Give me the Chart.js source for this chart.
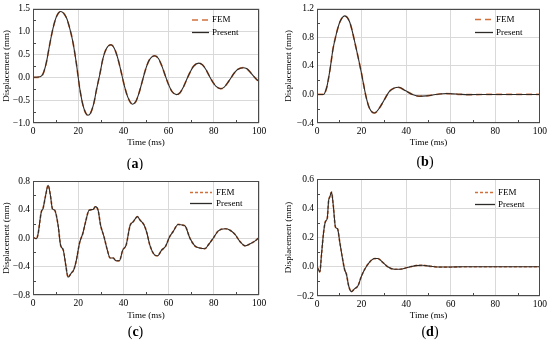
<!DOCTYPE html>
<html><head><meta charset="utf-8">
<script src="https://cdn.jsdelivr.net/npm/chart.js@4.4.1/dist/chart.umd.min.js"></script>
<style>
html,body{margin:0;padding:0;background:#fff;width:550px;height:345px;overflow:hidden;}
canvas{position:absolute;display:block;}
</style></head><body>
<canvas id="ca" width="275" height="170" style="left:0;top:0"></canvas>
<canvas id="cb" width="275" height="170" style="left:275px;top:0"></canvas>
<canvas id="cc" width="275" height="175" style="left:0;top:170px"></canvas>
<canvas id="cd" width="275" height="175" style="left:275px;top:170px"></canvas>
<script>
// ---------- data ----------
const seriesNames = ['FEM', 'Present'];
const xTitle = 'Time (ms)';
const yTitle = 'Displacement (mm)';
const captions = ['a', 'b', 'c', 'd'];
const xTicks = [0, 20, 40, 60, 80, 100];

const yTicksA = [-1.0, -0.5, 0.0, 0.5, 1.0, 1.5];
const yTicksB = [-0.4, 0.0, 0.4, 0.8, 1.2];
const yTicksC = [-0.8, -0.4, 0.0, 0.4, 0.8];
const yTicksD = [-0.2, 0.0, 0.2, 0.4, 0.6];

const timeA = [0,1.5,3,4.4,5.9,7.4,8.9,10.4,12.3,14.8,16.2,17.7,19.2,20.7,22.1,23.3,24.3,25.5,27,28.1,29.5,31,32.5,34.5,36,37.5,39,40.5,42,44,45.5,47,48.5,50,51.5,53.9,55.5,57,58.5,60,61.5,63.5,65,66.5,68,69.5,71,73.4,75,76.5,78,79.5,81,83,84.5,86,87.5,89,90.5,93,94.5,96,97.5,99,100];
const femA = [0,0,0.01,0.07,0.32,0.72,1.08,1.33,1.44,1.30,1.08,0.76,0.30,-0.25,-0.61,-0.78,-0.83,-0.78,-0.55,-0.27,0.05,0.42,0.63,0.71,0.63,0.42,0.12,-0.2,-0.44,-0.59,-0.53,-0.33,-0.06,0.2,0.38,0.47,0.41,0.25,0.04,-0.16,-0.31,-0.38,-0.34,-0.22,-0.05,0.11,0.24,0.31,0.27,0.17,0.03,-0.1,-0.2,-0.25,-0.22,-0.13,-0.02,0.09,0.17,0.21,0.19,0.12,0.03,-0.05,-0.09];
const presentA = [0,0,0.01,0.07,0.32,0.72,1.08,1.33,1.44,1.30,1.08,0.76,0.30,-0.25,-0.61,-0.78,-0.83,-0.78,-0.55,-0.27,0.05,0.42,0.63,0.71,0.63,0.42,0.12,-0.2,-0.44,-0.59,-0.53,-0.33,-0.06,0.2,0.38,0.47,0.41,0.25,0.04,-0.16,-0.31,-0.38,-0.34,-0.22,-0.05,0.11,0.24,0.31,0.27,0.17,0.03,-0.1,-0.2,-0.25,-0.22,-0.13,-0.02,0.09,0.17,0.21,0.19,0.12,0.03,-0.05,-0.09];

const timeB = [0,2,2.8,4.3,5.8,7.2,8.7,10.2,12.4,14.7,17.6,19.8,22,23.5,25.8,28,30.2,32.4,34.7,36.6,39.8,42.8,45.8,49,52,55,58,61,64,68,72,76,100];
const femB = [0,0,0,0.09,0.34,0.64,0.85,1.01,1.10,1.01,0.64,0.32,-0.03,-0.19,-0.26,-0.19,-0.075,0.04,0.09,0.10,0.05,0,-0.025,-0.02,-0.008,0.006,0.012,0.008,0.002,-0.003,-0.002,0,0];
const presentB = [0,0,0,0.09,0.34,0.64,0.85,1.01,1.10,1.01,0.64,0.32,-0.03,-0.19,-0.26,-0.19,-0.075,0.04,0.09,0.10,0.05,0,-0.025,-0.02,-0.008,0.006,0.012,0.008,0.002,-0.003,-0.002,0,0];

const timeC = [0,1.5,2.2,3.7,4.4,5.6,6.7,7.7,8.6,9.6,11.1,12.2,13.4,14.5,15.5,17,18,19.2,20.6,22.1,23.3,24.8,26.6,27.6,28.8,29.9,31.4,32.9,34.1,35.5,36.7,38.2,39.7,41.2,43,44.4,46.2,47.4,49.2,50.4,51.7,53.9,55.1,56.9,58.6,60.5,62,64.2,66.4,67.5,69.4,71.6,73.8,76.1,77.5,79.8,82,85,87.2,89.4,91.6,93.9,96.1,98.3,100];
const femC = [0.01,-0.01,0.05,0.37,0.41,0.6,0.74,0.6,0.41,0.39,0.18,-0.1,-0.17,-0.38,-0.55,-0.49,-0.45,-0.31,-0.07,0.07,0.23,0.39,0.4,0.44,0.39,0.18,0.02,-0.17,-0.28,-0.28,-0.32,-0.32,-0.17,-0.1,0.18,0.23,0.3,0.25,0.18,0.07,-0.1,-0.24,-0.25,-0.17,-0.12,0.02,0.09,0.19,0.18,0.16,0,-0.11,-0.14,-0.15,-0.1,0,0.1,0.13,0.11,0.05,-0.05,-0.11,-0.08,-0.04,0.01];
const presentC = [0.01,-0.01,0.05,0.37,0.41,0.6,0.74,0.6,0.41,0.39,0.18,-0.1,-0.17,-0.38,-0.55,-0.49,-0.45,-0.31,-0.07,0.07,0.23,0.39,0.4,0.44,0.39,0.18,0.02,-0.17,-0.28,-0.28,-0.32,-0.32,-0.17,-0.1,0.18,0.23,0.3,0.25,0.18,0.07,-0.1,-0.24,-0.25,-0.17,-0.12,0.02,0.09,0.19,0.18,0.16,0,-0.11,-0.14,-0.15,-0.1,0,0.1,0.13,0.11,0.05,-0.05,-0.11,-0.08,-0.04,0.01];

const timeD = [0,1.3,2,3,3.8,4.6,5.2,5.8,6.5,7.3,8.3,9.2,10.2,11.4,12.4,13.2,14.2,15.4,16.9,18.4,19.8,21.3,23.5,25.8,27.3,29.5,31.7,34.7,37.2,40.6,44.3,47.3,51,55,60,65,100];
const femD = [0,-0.035,0.08,0.24,0.31,0.33,0.45,0.48,0.51,0.42,0.27,0.26,0.17,0.06,-0.02,-0.05,-0.13,-0.17,-0.15,-0.13,-0.07,-0.02,0.03,0.056,0.056,0.03,0,-0.017,-0.017,-0.005,0.008,0.01,0.003,-0.002,-0.002,0,0];
const presentD = [0,-0.035,0.08,0.24,0.31,0.33,0.45,0.48,0.51,0.42,0.27,0.26,0.17,0.06,-0.02,-0.05,-0.13,-0.17,-0.15,-0.13,-0.07,-0.02,0.03,0.056,0.056,0.03,0,-0.017,-0.017,-0.005,0.008,0.01,0.003,-0.002,-0.002,0,0];

// ---------- styling ----------
const FAMILY = '"Liberation Serif", "Times New Roman", serif';
const femColor = '#d2703c';
const presentColor = '#2e2a28';
const gridColor = '#d9d9d9';
const boxColor = '#4a4a4a';

function fmtY(v){ return (v < 0 ? '\u2212' : '') + Math.abs(v).toFixed(1); }

const panels = [
  {id:'ca', W:275, H:170, area:{l:33,r:259,t:7,b:123}, t:timeA, fem:femA, present:presentA, yTicks:yTicksA, dash:[6,4],
   xtPad:21.5, ytPad:1.6, cap:{x:135,y:164,letter:captions[0]}, leg:{x1:192,x2:209,tx:212,y1:20,y2:32.5}},
  {id:'cb', W:275, H:170, area:{l:42,r:267,t:8,b:123}, t:timeB, fem:femB, present:presentB, yTicks:yTicksB, dash:[6,4],
   xtPad:21.5, ytPad:8.6, cap:{x:150,y:162.5,letter:captions[1]}, leg:{x1:200,x2:218,tx:221,y1:19.5,y2:32.5}},
  {id:'cc', W:275, H:175, area:{l:33,r:259,t:11,b:125}, t:timeC, fem:femC, present:presentC, yTicks:yTicksC, dash:[3,2],
   xtPad:24, ytPad:1.3, cap:{x:135.5,y:162,letter:captions[2]}, leg:{x1:190,x2:212,tx:216,y1:22.5,y2:33.5}},
  {id:'cd', W:275, H:175, area:{l:42,r:267,t:9,b:126}, t:timeD, fem:femD, present:presentD, yTicks:yTicksD, dash:[3,2],
   xtPad:24, ytPad:8.6, cap:{x:155,y:162,letter:captions[3]}, leg:{x1:200,x2:220,tx:223,y1:22.5,y2:34.5}}
];

function decor(cfg){
  return {
    id:'decor',
    afterDraw(chart){
      const ctx = chart.ctx, ca = chart.chartArea, xs = chart.scales.x, ys = chart.scales.y;
      ctx.save();
      // minor ticks (inward)
      ctx.strokeStyle = boxColor; ctx.lineWidth = 1; ctx.setLineDash([]);
      ctx.beginPath();
      for (let i = 0; i < xTicks.length - 1; i++) {
        const m = (xTicks[i] + xTicks[i+1]) / 2;
        const px = Math.round(xs.getPixelForValue(m)) + 0.5;
        ctx.moveTo(px, ca.bottom); ctx.lineTo(px, ca.bottom - 3);
      }
      const yt = cfg.yTicks;
      for (let i = 0; i < yt.length - 1; i++) {
        const m = (yt[i] + yt[i+1]) / 2;
        const py = Math.round(ys.getPixelForValue(m)) + 0.5;
        ctx.moveTo(ca.left, py); ctx.lineTo(ca.left + 3, py);
      }
      ctx.stroke();
      // box
      const L = Math.round(ca.left) + 0.5, T = Math.round(ca.top) + 0.5;
      const R = Math.round(ca.right) - 0.5, B = Math.round(ca.bottom) - 0.5;
      ctx.strokeRect(L, T, R - L, B - T);
      // legend
      const ds = chart.data.datasets;
      const lg = cfg.leg;
      [lg.y1, lg.y2].forEach((y, i) => {
        const d = ds[i];
        ctx.beginPath();
        ctx.strokeStyle = d.borderColor;
        ctx.lineWidth = 1.3;
        ctx.setLineDash(d.borderDash || []);
        ctx.moveTo(lg.x1, y); ctx.lineTo(lg.x2, y);
        ctx.stroke();
        ctx.setLineDash([]);
        ctx.fillStyle = '#000';
        ctx.font = '9px ' + FAMILY;
        ctx.textAlign = 'left'; ctx.textBaseline = 'middle';
        ctx.fillText(d.label, lg.tx, y);
      });
      // caption "(x)"
      const c = cfg.cap;
      const fN = '14px ' + FAMILY, fB = 'bold 14px ' + FAMILY;
      ctx.font = fN; const wo = ctx.measureText('(').width, wc = ctx.measureText(')').width;
      ctx.font = fB; const wl = ctx.measureText(c.letter).width;
      let x = c.x - (wo + wl + wc) / 2;
      ctx.textAlign = 'left'; ctx.textBaseline = 'middle'; ctx.fillStyle = '#000';
      ctx.font = fN; ctx.fillText('(', x, c.y); x += wo;
      ctx.font = fB; ctx.fillText(c.letter, x, c.y); x += wl;
      ctx.font = fN; ctx.fillText(')', x, c.y);
      ctx.restore();
    }
  };
}

function makeChart(cfg){
  const a = cfg.area;
  const pts = (ts, vs) => ts.map((t, i) => ({x: t, y: vs[i]}));
  const tickFont = {family: FAMILY, size: 9.5};
  const titleFont = {family: FAMILY, size: 9};
  new Chart(document.getElementById(cfg.id), {
    type: 'line',
    data: {datasets: [
      {label: seriesNames[0], data: pts(cfg.t, cfg.fem), borderColor: femColor, borderDash: cfg.dash,
       borderWidth: 1.7, pointRadius: 0, fill: false, cubicInterpolationMode: 'monotone', order: 1},
      {label: seriesNames[1], data: pts(cfg.t, cfg.present), borderColor: presentColor,
       borderWidth: 1.1, pointRadius: 0, fill: false, cubicInterpolationMode: 'monotone', order: 0}
    ]},
    options: {
      responsive: false, animation: false, devicePixelRatio: 1,
      layout: {padding: {left: 0, top: a.t, right: cfg.W - a.r, bottom: 0}},
      plugins: {legend: {display: false}, tooltip: {enabled: false}},
      scales: {
        x: {
          type: 'linear', min: xTicks[0], max: xTicks[xTicks.length-1],
          afterBuildTicks: s => { s.ticks = xTicks.map(v => ({value: v})); },
          afterFit: s => { s.height = cfg.H - a.b; },
          ticks: {font: tickFont, color: '#000', padding: 3, maxRotation: 0, callback: v => String(v)},
          grid: {color: gridColor, drawTicks: false},
          border: {display: false},
          title: {display: true, text: xTitle, font: titleFont, color: '#000', padding: {top: 0, bottom: cfg.xtPad}}
        },
        y: {
          type: 'linear', min: cfg.yTicks[0], max: cfg.yTicks[cfg.yTicks.length-1],
          afterBuildTicks: s => { s.ticks = cfg.yTicks.map(v => ({value: v})); },
          afterFit: s => { s.width = a.l; },
          ticks: {font: tickFont, color: '#000', padding: 3, callback: v => fmtY(v)},
          grid: {color: gridColor, drawTicks: false},
          border: {display: false},
          title: {display: true, text: yTitle, font: titleFont, color: '#000', padding: {top: cfg.ytPad, bottom: 0}}
        }
      }
    },
    plugins: [decor(cfg)]
  });
}

panels.forEach(makeChart);
</script>
</body></html>
